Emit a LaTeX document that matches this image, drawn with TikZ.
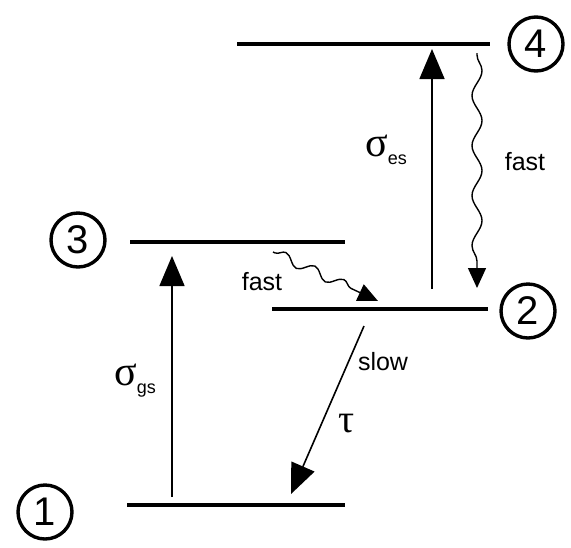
\documentclass[tikz,border=0pt]{standalone}
\usepackage{fontspec}
\setmainfont{Liberation Sans}
\newfontfamily\grk{Liberation Serif}
\usetikzlibrary{arrows.meta,decorations.pathmorphing}
\begin{document}
\begin{tikzpicture}[x=0.5pt,y=-0.5pt,
 level/.style={line width=2.1pt},
 num/.style={draw, circle, line width=1.7pt, minimum size=27pt, inner sep=0pt, font=\fontsize{20}{20}\selectfont},
 bigarrow/.style={line width=0.8pt, -{Triangle[length=15pt,width=12.5pt]}},
 wavy/.style={line width=0.7pt, decorate, decoration={snake, amplitude=2.5pt, segment length=#1, post length=10pt, pre length=1pt}, -{Triangle[length=10pt,width=9pt]}},
 lbl/.style={font=\fontsize{12.5}{12.5}\selectfont, inner sep=0pt},
 sig/.style={inner sep=0pt}]
\useasboundingbox (0,0) rectangle (571,547);
% energy levels
\coordinate (L4a) at (237,44);  \coordinate (L4b) at (490,44);
\coordinate (L3a) at (130,242); \coordinate (L3b) at (345,242);
\coordinate (L2a) at (272,309); \coordinate (L2b) at (488,309);
\coordinate (L1a) at (127,505); \coordinate (L1b) at (345,505);
\draw[level] (L4a) -- (L4b);
\draw[level] (L3a) -- (L3b);
\draw[level] (L2a) -- (L2b);
\draw[level] (L1a) -- (L1b);
% numbered circles
\node[num] (c4) at (536,44) {4};
\node[num] (c3) at (78,240) {3};
\node[num] (c2) at (528,311) {2};
\node[num] (c1) at (45,512) {1};
% transitions
\coordinate (a13s) at (172,497); \coordinate (a13e) at (172,256);
\draw[bigarrow] (a13s) -- (a13e);
\coordinate (a24s) at (432,289); \coordinate (a24e) at (432,49);
\draw[bigarrow] (a24s) -- (a24e);
\coordinate (w42s) at (477,53); \coordinate (w42e) at (477,288);
\draw[wavy=25pt] (w42s) -- (w42e);
\coordinate (w32s) at (273,252); \coordinate (w32e) at (378,301);
\draw[wavy=16pt] (w32s) -- (w32e);
\coordinate (s21s) at (364,326); \coordinate (s21e) at (291,494);
\draw[bigarrow] (s21s) -- (s21e);
% labels
\node[lbl] (fastR) at (525,162) {fast};
\node[lbl] (fastL) at (262,282) {fast};
\node[lbl] (slow) at (383,362) {slow};
\node[sig] (tau) at (347,424) {\fontsize{20}{20}\grk τ};
\node[sig] (ses) at (386,150) {\fontsize{21}{21}\grk σ\raisebox{-4pt}{\fontsize{9}{9}\selectfont\normalfont\fontsize{9}{9}\selectfont es}};
\node[sig] (sgs) at (135,381) {\fontsize{21}{21}\grk σ\raisebox{-4pt}{\fontsize{9}{9}\selectfont\normalfont\fontsize{9}{9}\selectfont gs}};
\end{tikzpicture}
\end{document}
